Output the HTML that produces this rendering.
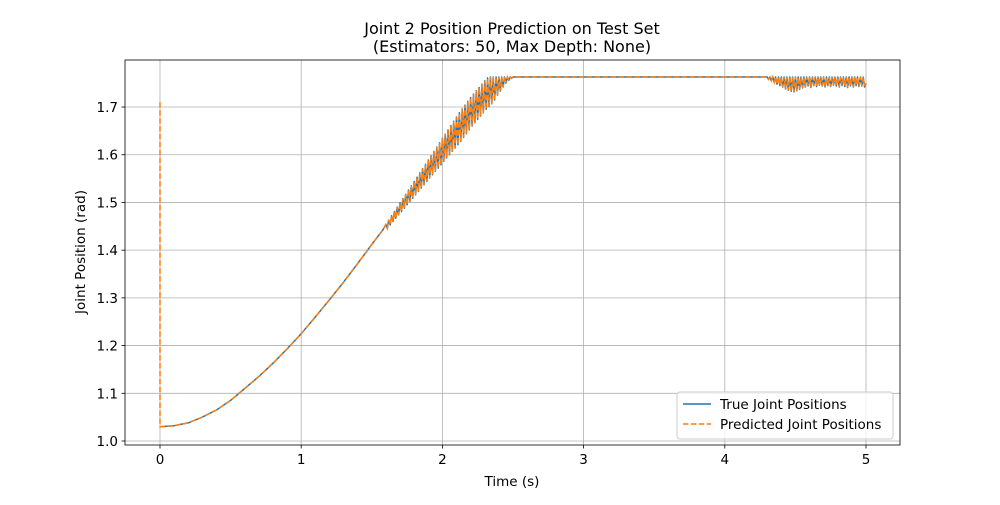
<!DOCTYPE html>
<html><head><meta charset="utf-8"><style>
body{margin:0;background:#fff;font-family:"Liberation Sans","DejaVu Sans",sans-serif}
svg text{font-family:"DejaVu Sans","Liberation Sans",sans-serif}
</style></head><body>
<svg id="chart" width="1000" height="500" xmlns="http://www.w3.org/2000/svg">
<rect width="1000" height="500" fill="#fff"/>
<text x="512" y="34" font-size="16" text-anchor="middle">Joint 2 Position Prediction on Test Set</text>
<text x="512" y="52" font-size="16" text-anchor="middle">(Estimators: 50, Max Depth: None)</text>
<g id="grid"></g>
<g id="series"></g>
<rect x="125" y="60" width="775" height="385" fill="none" stroke="#000" stroke-width="0.8"/>
<g id="ticks"></g>
<text x="512" y="486" font-size="13.5" text-anchor="middle">Time (s)</text>
<text transform="translate(85,252) rotate(-90)" font-size="13.5" text-anchor="middle">Joint Position (rad)</text>
<g>
<rect x="677" y="392" width="216" height="47" rx="3" fill="#fff" fill-opacity="0.8" stroke="#ccc"/>
<line x1="683" y1="404" x2="711" y2="404" stroke="#1f77b4" stroke-width="1.5"/>
<text x="720" y="409" font-size="13.5">True Joint Positions</text>
<line x1="683" y1="424" x2="711" y2="424" stroke="#ff7f0e" stroke-width="1.5" stroke-dasharray="5.5,2.4"/>
<text x="720" y="429" font-size="13.5">Predicted Joint Positions</text>
</g>
</svg>
<script>
const xTicks=[0,1,2,3,4,5];
const yTicks=[1.0,1.1,1.2,1.3,1.4,1.5,1.6,1.7];
const timeSmooth=[0,0.1,0.2,0.3,0.4,0.5,0.6,0.7,0.8,0.9,1.0,1.1,1.2,1.3,1.4,1.5,1.58];
const valSmooth=[1.03,1.032,1.038,1.05,1.065,1.085,1.11,1.135,1.163,1.193,1.225,1.26,1.296,1.333,1.372,1.412,1.443];
const timeRamp=[1.60,1.62,1.64,1.66,1.68,1.70,1.72,1.74,1.76,1.78,1.80,1.82,1.84,1.86,1.88,1.90,1.92,1.94,1.96,1.98,2.00,2.02,2.04,2.06,2.08,2.10,2.12,2.14,2.16,2.18,2.20,2.22,2.24,2.26,2.28,2.30,2.32,2.34,2.36,2.38,2.40,2.42,2.44,2.46,2.48,2.50];
const rampHigh=[1.454,1.463,1.472,1.481,1.490,1.499,1.508,1.517,1.526,1.535,1.544,1.553,1.562,1.571,1.580,1.589,1.598,1.607,1.616,1.625,1.634,1.643,1.652,1.661,1.670,1.679,1.688,1.696,1.704,1.712,1.720,1.727,1.734,1.741,1.748,1.755,1.761,1.763,1.763,1.763,1.763,1.763,1.763,1.763,1.763,1.763];
const rampLow=[1.446,1.453,1.460,1.467,1.474,1.481,1.488,1.495,1.502,1.509,1.516,1.523,1.530,1.537,1.544,1.551,1.558,1.565,1.572,1.579,1.586,1.593,1.600,1.607,1.614,1.621,1.628,1.636,1.644,1.652,1.660,1.667,1.674,1.681,1.688,1.695,1.701,1.707,1.715,1.725,1.733,1.742,1.750,1.756,1.760,1.763];
const timeFlat=[3.0,4.0,4.28];
const valFlat=[1.763,1.763,1.763];
const timeTail=[4.30,4.32,4.34,4.36,4.38,4.40,4.42,4.44,4.46,4.48,4.50,4.52,4.54,4.56,4.58,4.60,4.62,4.64,4.66,4.68,4.70,4.72,4.74,4.76,4.78,4.80,4.82,4.84,4.86,4.88,4.90,4.92,4.94,4.96,4.98];
const tailHigh=[1.763,1.763,1.763,1.763,1.763,1.763,1.763,1.763,1.763,1.763,1.763,1.763,1.763,1.763,1.763,1.763,1.763,1.763,1.763,1.763,1.763,1.763,1.763,1.763,1.763,1.763,1.763,1.763,1.763,1.763,1.763,1.763,1.763,1.763,1.763];
const tailLow=[1.758,1.755,1.752,1.748,1.745,1.742,1.738,1.735,1.733,1.732,1.734,1.737,1.740,1.742,1.744,1.741,1.745,1.743,1.746,1.744,1.742,1.745,1.743,1.746,1.744,1.742,1.745,1.743,1.741,1.744,1.742,1.745,1.743,1.744,1.742];
const timeEnd=[5.00];
const valEnd=[1.75];
const spikeTime=[0];
const spikePred=[1.71];
const X=t=>160+141.2*t, Y=v=>441-(v-1)*477.1;
const NS='http://www.w3.org/2000/svg';
function mk(tag,attrs,parent){const e=document.createElementNS(NS,tag);for(const k in attrs)e.setAttribute(k,attrs[k]);parent.appendChild(e);return e;}
const grid=document.getElementById('grid'),ticks=document.getElementById('ticks'),series=document.getElementById('series');
xTicks.forEach(t=>{const x=X(t);
 const g=mk('line',{x1:x,x2:x,y1:60,y2:445,stroke:'#b0b0b0','stroke-width':0.8},grid);
 
 
 mk('line',{x1:x,x2:x,y1:445,y2:448.5,stroke:'#000','stroke-width':0.8},ticks);
 const l=mk('text',{x:x,y:464,'font-size':13.5,'text-anchor':'middle'},ticks);l.textContent=t;
 
 });
yTicks.forEach(v=>{const y=Y(v);
 const g=mk('line',{x1:125,x2:900,y1:y,y2:y,stroke:'#b0b0b0','stroke-width':0.8},grid);
 
 
 mk('line',{x1:121.5,x2:125,y1:y,y2:y,stroke:'#000','stroke-width':0.8},ticks);
 const l=mk('text',{x:118,y:y+5,'font-size':13.5,'text-anchor':'end'},ticks);l.textContent=v.toFixed(1);
 
 });
function build(){
 const ts=[],vs=[];
 timeSmooth.forEach((t,i)=>{ts.push(t);vs.push(valSmooth[i]);});
 timeRamp.forEach((t,i)=>{ts.push(t,t+0.01);vs.push(rampHigh[i],rampLow[i]);});
 timeFlat.forEach((t,i)=>{ts.push(t);vs.push(valFlat[i]);});
 timeTail.forEach((t,i)=>{ts.push(t,t+0.01);vs.push(tailHigh[i],tailLow[i]);});
 timeEnd.forEach((t,i)=>{ts.push(t);vs.push(valEnd[i]);});
 return [ts,vs];
}
const pt=(ts,vs)=>ts.map((t,i)=>X(t).toFixed(1)+','+Y(vs[i]).toFixed(1)).join(' ');
const [tT,vT]=build();
const tP2=spikeTime.concat(tT), vP2=spikePred.concat(vT);
const a=mk('polyline',{points:pt(tT,vT),fill:'none',stroke:'#1f77b4','stroke-width':1.5,'stroke-linejoin':'round'},series);


const b=mk('polyline',{points:pt(tP2,vP2),fill:'none',stroke:'#ff7f0e','stroke-width':1.5,'stroke-dasharray':'5.5,2.4'},series);


</script>
</body></html>
